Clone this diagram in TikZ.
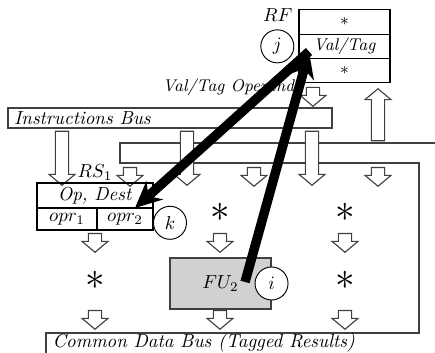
\documentclass[tikz,border=0pt]{standalone}
\usepackage{amsmath,amssymb}
\usepackage{tikz}
\usetikzlibrary{arrows.meta,positioning,shapes.arrows}

\begin{document}
\begin{tikzpicture}[x=0.53pt,y=0.53pt,line cap=round,
  regcell/.style={draw,rectangle,minimum width=48.2pt,minimum height=12.9pt,inner sep=0pt,outer sep=0pt,font=\small,line width=0.6pt},
  rscell/.style={draw,rectangle,inner sep=0pt,outer sep=0pt,line width=1.1pt},
  tagcirc/.style={draw,circle,minimum size=17.5pt,inner sep=0pt,fill=white,line width=0.5pt},
  busline/.style={draw=black!75,line width=0.6pt},
  hollow/.style={draw=black!75,fill=white,single arrow,shape border rotate=270,inner sep=3.2pt,
    single arrow head extend=3.4pt,single arrow tip angle=100,anchor=tip,line width=0.6pt},
  bigarrow/.style={-{Stealth[length=14pt,width=13pt]},line width=5pt,line cap=butt},
  starmark/.style={font=\huge}]
\useasboundingbox (0,0) rectangle (435,353);
% register file
\node[regcell] (rf1) at (344.5,331) {$*$};
\node[regcell,below=0pt of rf1] (rf2) {\textit{Val/Tag}};
\node[regcell,below=0pt of rf2] (rf3) {$*$};
\node[left=0pt of rf1,yshift=3.7pt] (rflab) {$RF$};
\node[tagcirc,left=2.5pt of rf2] (tj) {$j$};
\node[font=\small] (vtops) at (232,266) {\textit{Val/Tag Operands}};
\node[hollow,minimum height=10pt] (rfout) at (313,246) {};
\node[hollow,minimum height=27.6pt,shape border rotate=90] (rfin) at (378,265) {};
% instruction bus
\node[busline,minimum width=171.7pt,minimum height=10.6pt,inner sep=0pt] (ib) at (170,235) {};
\node[anchor=west] (iblab) at (ib.west) {\textit{Instructions Bus}};
% common data bus, looping back over the stations
\draw[busline] (435,210) -- (120,210) -- (120,190) -- (419,190) -- (419,20) -- (46,20) -- (46,0);
\node[anchor=west] (cdblab) at (46,10) {\textit{Common Data Bus (Tagged Results)}};
% issue and forward arrows
\foreach \x [count=\i] in {62,187,312} \node[hollow,minimum height=28.6pt] (iss\i) at (\x,167) {};
\foreach \x [count=\i] in {130,254,378} \node[hollow,minimum height=9pt] (fwd\i) at (\x,166) {};
% reservation station 1
\node[rscell,minimum width=61.5pt,minimum height=13.25pt] (rsop) at (95,157.5) {\textit{Op, Dest}};
\node[rscell,minimum width=31.8pt,minimum height=11.7pt,anchor=north west] (opr1) at (rsop.south west) {$opr_1$};
\node[rscell,minimum width=29.7pt,minimum height=11.7pt,anchor=north east] (opr2) at (rsop.south east) {$opr_2$};
\node[above=0pt of rsop,inner sep=1pt] (rslab) {$RS_1$};
\node[tagcirc,anchor=west] (tk) at ([yshift=-2pt]opr2.east) {$k$};
% stations and units
\foreach \x [count=\i] in {95,220,345} \node[hollow,minimum height=8pt] (mid\i) at (\x,100) {};
\foreach \x [count=\i] in {95,220,345} \node[hollow,minimum height=8pt] (out\i) at (\x,23) {};
\node[starmark] (rs2) at (220,141) {$*$};
\node[starmark] (rs3) at (345,141) {$*$};
\node[starmark] (fu1) at (95,73) {$*$};
\node[starmark] (fu3) at (345,73) {$*$};
\node[draw=black!75,fill=black!18,minimum width=53.5pt,minimum height=27pt,inner sep=0pt,line width=0.6pt] (fu2) at (220.5,69.5) {$FU_2$};
\node[tagcirc] (ti) at (fu2.east) {$i$};
% tag traffic
\coordinate (vt) at ([xshift=5.3pt,yshift=3.7pt]rf2.south west);
\draw[bigarrow] (vt) -- ([xshift=5.3pt]opr2.north);
\draw[bigarrow] ([xshift=13pt,yshift=0.8pt]fu2.center) -- (vt);
\end{tikzpicture}
\end{document}
